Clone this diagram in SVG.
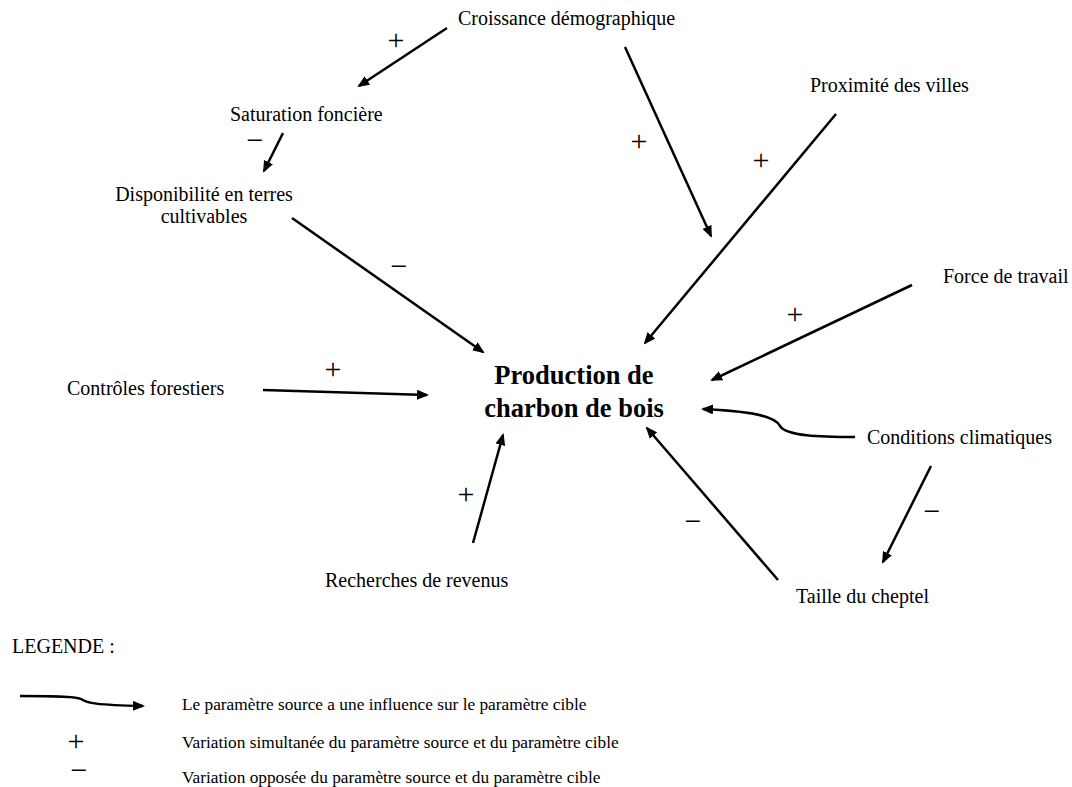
<svg xmlns="http://www.w3.org/2000/svg" width="1072" height="787" viewBox="0 0 1072 787">
<style>
text{font-family:"Liberation Serif","Times New Roman",serif;fill:#000}
.n{font-size:20px}
.t{font-size:26.5px;font-weight:bold;text-anchor:middle}
.s{font-size:30px;text-anchor:middle}
.l{font-size:17.3px}
.c{fill:none;stroke:#000;stroke-width:2.5}
</style>
<defs>
<marker id="ah" viewBox="0 0 12 10" refX="10" refY="5" markerWidth="12" markerHeight="10" markerUnits="userSpaceOnUse" orient="auto">
<path d="M0,0 L12,5 L0,10 z" fill="#000"/>
</marker>
</defs>
<rect width="1072" height="787" fill="#fff"/>
<g id="connectors">
<line class="c" x1="447" y1="28" x2="359" y2="86" marker-end="url(#ah)"/>
<line class="c" x1="625" y1="47" x2="711" y2="236" marker-end="url(#ah)"/>
<line class="c" x1="836" y1="114" x2="645" y2="343" marker-end="url(#ah)"/>
<line class="c" x1="912" y1="285" x2="712" y2="380" marker-end="url(#ah)"/>
<line class="c" x1="283" y1="133" x2="264" y2="171" marker-end="url(#ah)"/>
<line class="c" x1="292" y1="218" x2="483" y2="352" marker-end="url(#ah)"/>
<line class="c" x1="263" y1="390" x2="427" y2="395" marker-end="url(#ah)"/>
<line class="c" x1="473" y1="543" x2="503" y2="435" marker-end="url(#ah)"/>
<path class="c" d="M855,437 C820,437 786,436 780,426 C775,416 750,411 703,409" marker-end="url(#ah)"/>
<line class="c" x1="931" y1="466" x2="883" y2="562" marker-end="url(#ah)"/>
<line class="c" x1="778" y1="580" x2="647" y2="428" marker-end="url(#ah)"/>
</g>
<g id="signs">
<text class="s" x="396" y="50">+</text>
<text class="s" x="255" y="150">−</text>
<text class="s" x="399" y="276">−</text>
<text class="s" x="639" y="151">+</text>
<text class="s" x="761" y="170">+</text>
<text class="s" x="795" y="324">+</text>
<text class="s" x="333" y="379">+</text>
<text class="s" x="466" y="504">+</text>
<text class="s" x="693" y="531">−</text>
<text class="s" x="932" y="521">−</text>
</g>
<g id="node-croissance"><text class="n" x="458" y="25">Croissance démographique</text></g>
<g id="node-saturation"><text class="n" x="230" y="121">Saturation foncière</text></g>
<g id="node-disponibilite"><text class="n" x="204" y="201" text-anchor="middle">Disponibilité en terres</text><text class="n" x="204" y="223" text-anchor="middle">cultivables</text></g>
<g id="node-proximite"><text class="n" x="810" y="92">Proximité des villes</text></g>
<g id="node-force"><text class="n" x="943" y="283">Force de travail</text></g>
<g id="node-controles"><text class="n" x="67" y="395">Contrôles forestiers</text></g>
<g id="node-production"><text class="t" x="574" y="384">Production de</text><text class="t" x="574" y="417">charbon de bois</text></g>
<g id="node-conditions"><text class="n" x="867" y="444">Conditions climatiques</text></g>
<g id="node-taille"><text class="n" x="796" y="603">Taille du cheptel</text></g>
<g id="node-recherches"><text class="n" x="325" y="587">Recherches de revenus</text></g>
<g id="legend">
<text class="n" x="12" y="653">LEGENDE :</text>
<path class="c" d="M20,696 C50,696 75,696 81,699 C87,703 95,705 143,706" marker-end="url(#ah)"/>
<text class="l" x="182" y="710">Le paramètre source a une influence sur le paramètre cible</text>
<text class="s" x="76" y="751">+</text>
<text class="l" x="182" y="748">Variation simultanée du paramètre source et du paramètre cible</text>
<text class="s" x="79" y="780">−</text>
<text class="l" x="182" y="783">Variation opposée du paramètre source et du paramètre cible</text>
</g>
</svg>
